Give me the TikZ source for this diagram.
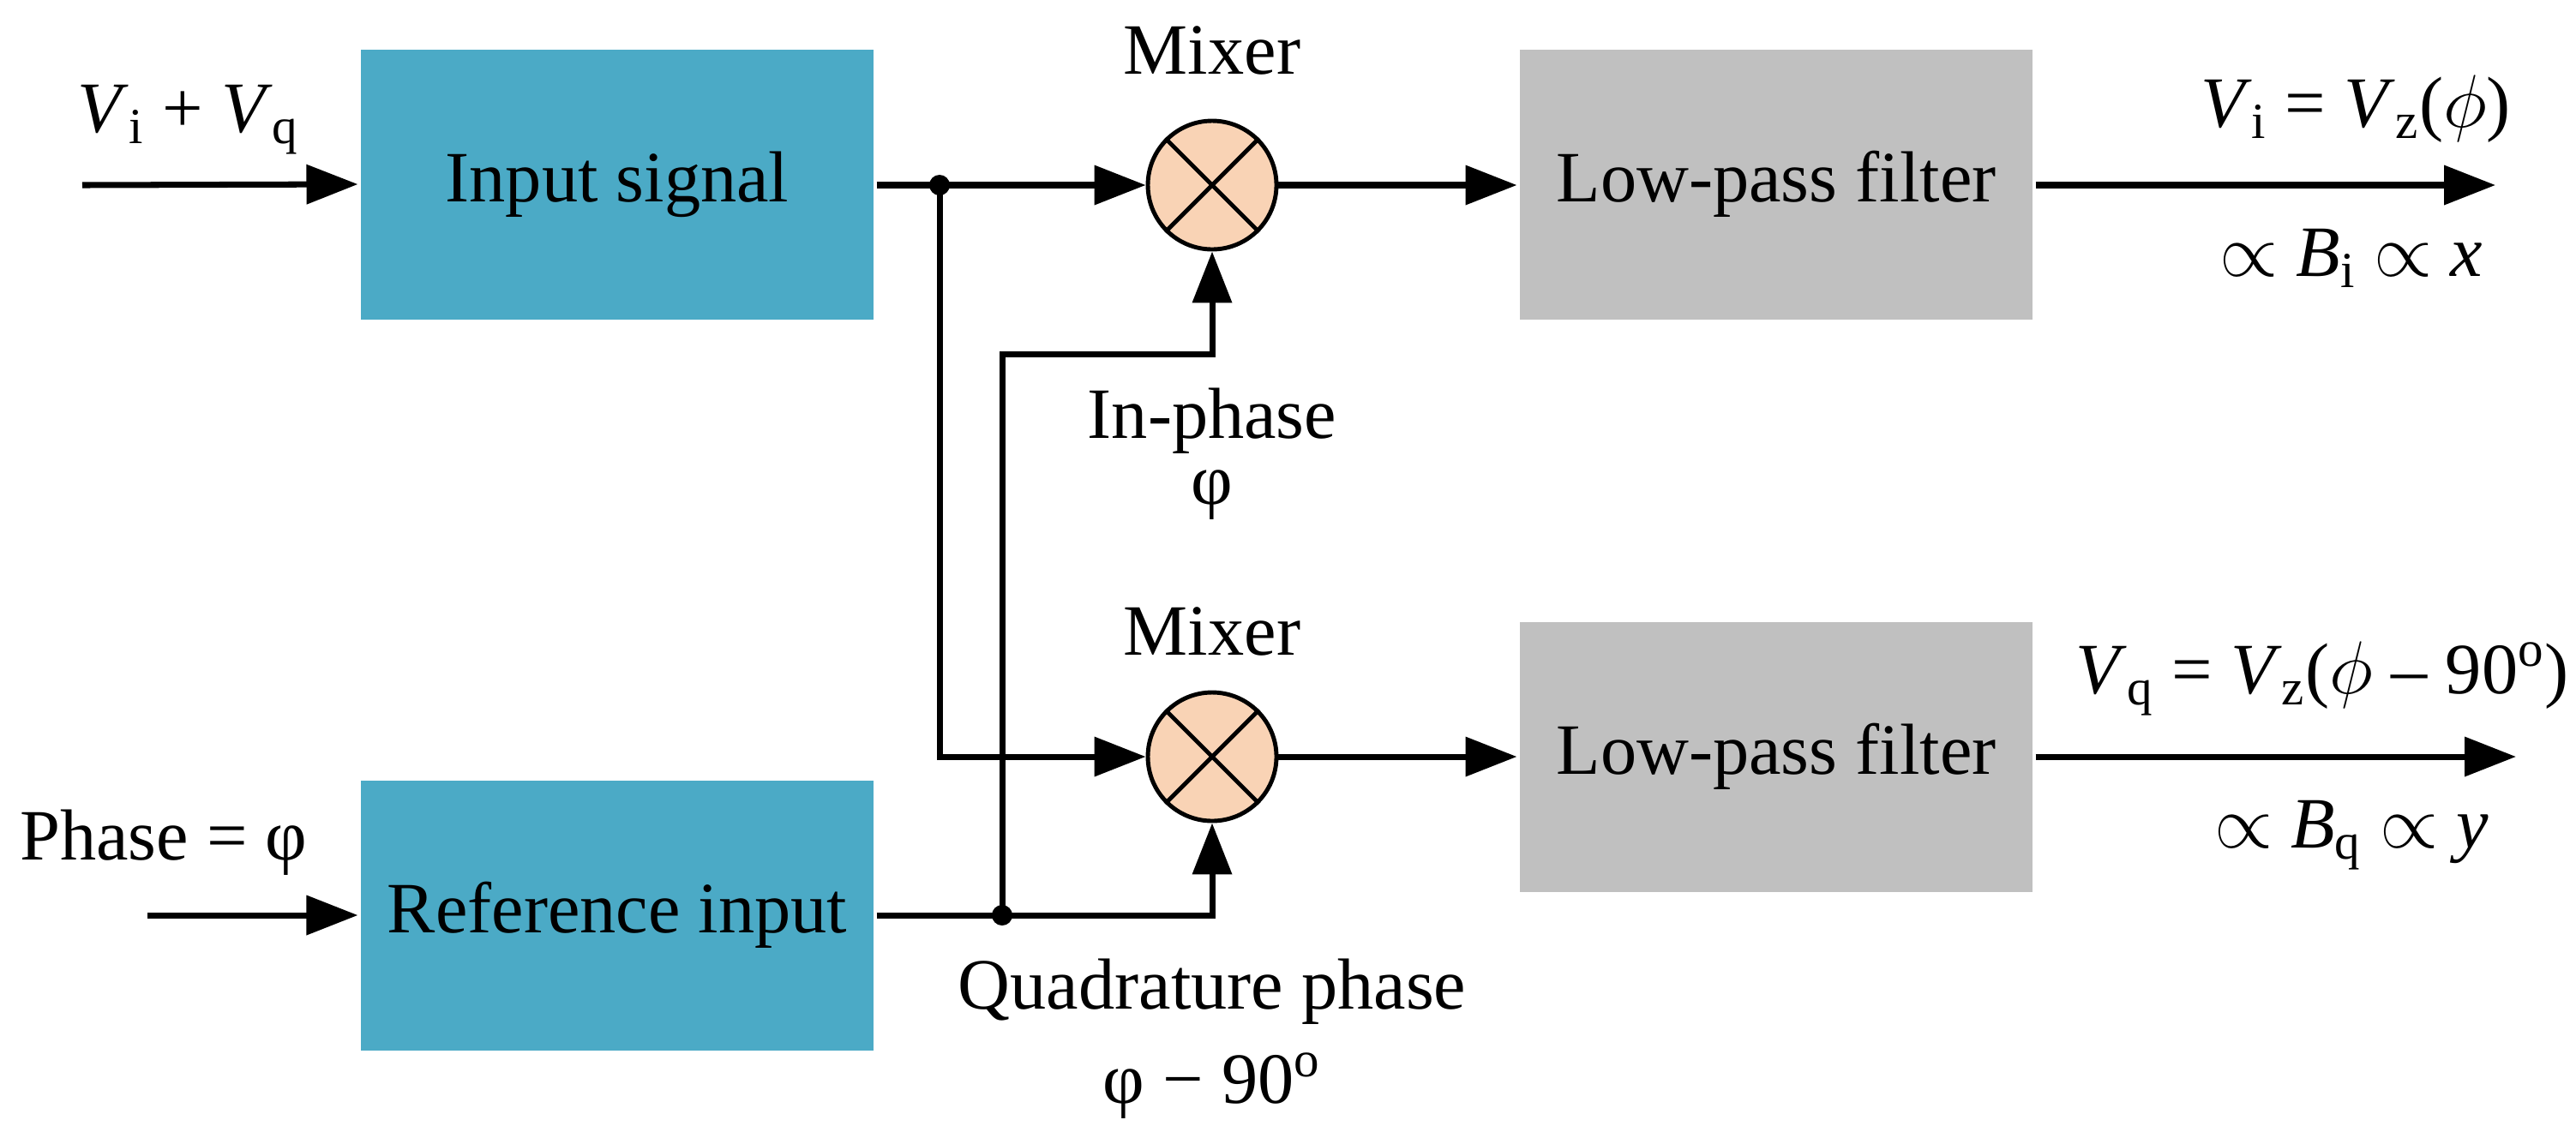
\documentclass[tikz,border=0pt]{standalone}
\usepackage{fontspec}
\setmainfont{Liberation Serif}
\usetikzlibrary{arrows.meta,positioning}
\definecolor{boxblue}{HTML}{4BAAC6}
\definecolor{boxgray}{HTML}{C0C0C0}
\definecolor{mixfill}{HTML}{F9D3B5}
\tikzset{block/.style={draw=none,minimum width=5.98cm,minimum height=3.15cm,font=\fontsize{24}{28}\selectfont}}
\tikzset{mixer/.style={draw,circle,fill=mixfill,minimum size=1.5cm,line width=1.4pt}}
\tikzset{lbl/.style={font=\fontsize{24}{28}\selectfont}}
\newcommand{\vsub}[2]{\textit{#1}\textsubscript{#2}}
\begin{document}
\begin{tikzpicture}[line width=2pt,>={Triangle[length=0.6cm,width=0.45cm]}]
		\useasboundingbox (0,0) rectangle (30.05,-13.27);

		\node[block,fill=boxblue](sig) at (7.2,-2.15){Input signal};
		\node[block,fill=boxblue](ref) at (7.2,-10.68){Reference input};

		\node[mixer](m1) at (14.14,-2.16){};
		\node[mixer](m2) at (14.14,-8.83){};
		\draw[line width=1.4pt] (m1.45) -- (m1.225) (m1.135) -- (m1.315);
		\draw[line width=1.4pt] (m2.45) -- (m2.225) (m2.135) -- (m2.315);

		\node[block,fill=boxgray](lp1) at (20.72,-2.15){Low-pass filter};
		\node[block,fill=boxgray](lp2) at (20.72,-8.83){Low-pass filter};

		\coordinate (in) at (0.96,-2.16);
		\coordinate (rin) at (1.72,-10.68);
		\coordinate (o1) at (29.11,-2.16);
		\coordinate (o2) at (29.35,-8.83);
		\coordinate (d1) at (10.96,-2.16);
		\coordinate (d2) at (11.69,-10.68);
		\fill (d1) circle (0.12);
		\fill (d2) circle (0.12);

		\draw[->] (in) -- (sig.west);
		\draw[->] (rin) -- (ref.west);
		\draw[->] (sig.east |- d1) -- (m1.west);
		\draw[->] (d1) |- (m2.west);
		\draw (ref.east |- d2) -- (d2);
		\draw[->] (d2) -| (m2.south);
		\draw[->] (d2) |- (12.9,-4.13) -| (m1.south);
		\draw[->] (m1.east) -- (lp1.west |- m1);
		\draw[->] (m2.east) -- (lp2.west |- m2);
		\draw[->] (lp1.east |- o1) -- (o1);
		\draw[->] (lp2.east |- o2) -- (o2);

		\node[lbl](l1) at (2.2,-1.4){\vsub{V}{i} + \vsub{V}{q}};
		\node[lbl](l2) at (1.91,-9.83){Phase = φ};
		\node[lbl](mx1) at (14.14,-0.59){Mixer};
		\node[lbl](mx2) at (14.14,-7.37){Mixer};
		\node[lbl,align=center](ip) at (14.14,-5.3){In-phase\\[-6pt]φ};
		\node[lbl](qp) at (14.14,-11.57){Quadrature phase};
		\node[lbl](qp2) at (14.14,-12.67){φ − 90\textsuperscript{o}};
		\node[lbl](r1) at (27.48,-1.27){\vsub{V}{i} = \vsub{V}{z}($\phi$)};
		\node[lbl](r2) at (27.43,-3.01){$\propto$ \vsub{B}{i} $\propto$ \textit{x}};
		\node[lbl](r3) at (27.09,-7.92){\vsub{V}{q} = \vsub{V}{z}($\phi$ – 90\textsuperscript{o})};
		\node[lbl](r4) at (27.43,-9.75){$\propto$ \vsub{B}{q} $\propto$ \textit{y}};
\end{tikzpicture}
\end{document}
